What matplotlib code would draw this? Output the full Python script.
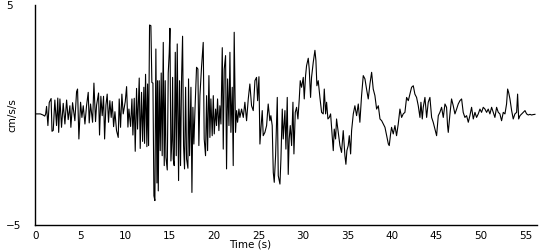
import matplotlib
matplotlib.use("Agg")
import matplotlib.pyplot as plt

# time (s) and ground acceleration (cm/s/s)
time_s = [
    0.0, 0.5, 0.8, 1.0, 1.1, 1.20, 1.35, 1.50, 1.71, 1.81, 1.95, 2.13, 2.32, 2.46, 2.56,
    2.70, 2.88, 3.07, 3.26, 3.45, 3.63, 3.82, 3.93, 4.12, 4.38, 4.57, 4.68, 4.83,
    5.02, 5.17, 5.32, 5.51, 5.69, 5.88, 5.99, 6.14, 6.37, 6.52, 6.70, 6.82, 7.04,
    7.15, 7.30, 7.45, 7.60, 7.72, 7.87, 8.01, 8.16, 8.31, 8.46, 8.58, 8.73, 8.88,
    9.06, 9.25, 9.36, 9.51, 9.66, 9.81, 10.04, 10.19, 10.34, 10.45, 10.64, 10.79,
    10.90, 11.05, 11.16, 11.31, 11.42, 11.61, 11.72, 11.87, 11.99, 12.13, 12.21,
    12.32, 12.47, 12.55, 12.66, 12.77, 12.92, 13.03, 13.15, 13.26, 13.37, 13.48,
    13.60, 13.67, 13.75, 13.86, 13.97, 14.08, 14.19, 14.31, 14.42, 14.53, 14.61,
    14.76, 14.87, 14.98, 15.06, 15.17, 15.28, 15.36, 15.43, 15.54, 15.66, 15.77,
    15.88, 16.03, 16.14, 16.25, 16.37, 16.48, 16.59, 16.70, 16.82, 16.93, 17.08,
    17.15, 17.27, 17.42, 17.53, 17.64, 17.75, 17.87, 18.05, 18.20, 18.31,
    18.43, 18.61, 18.80, 18.91, 19.06, 19.18, 19.29, 19.44, 19.55, 19.66, 19.81,
    19.93, 20.04, 20.19, 20.30, 20.41, 20.56, 20.67, 20.79, 20.94, 21.05, 21.16,
    21.31, 21.42, 21.54, 21.69, 21.80, 21.91, 22.06, 22.17, 22.28, 22.43, 22.55,
    22.66, 22.81, 22.92, 23.11, 23.30, 23.48, 23.67, 23.86, 24.04, 24.23, 24.42,
    24.61, 24.79, 24.91, 25.06, 25.17, 25.28, 25.43, 25.54, 25.73, 25.92, 26.10,
    26.29, 26.40, 26.55, 26.67, 26.78, 26.93, 27.12, 27.23, 27.42, 27.53, 27.68,
    27.79, 27.98, 28.09, 28.24, 28.35, 28.46, 28.58, 28.73, 28.88, 28.99, 29.14,
    29.29, 29.44, 29.59, 29.70, 29.85, 30.04, 30.15, 30.30, 30.41, 30.60, 30.71,
    30.86, 30.97, 31.16, 31.35, 31.46, 31.57, 31.72, 31.91, 32.10, 32.28, 32.40,
    32.55, 32.66, 32.81, 32.96, 33.11, 33.22, 33.41, 33.52, 33.67, 33.78, 33.97,
    34.16, 34.34, 34.53, 34.72, 34.83, 34.94, 35.09, 35.21, 35.36, 35.47, 35.66,
    35.84, 36.03, 36.22, 36.40, 36.59, 36.78, 36.97, 37.15, 37.34, 37.53, 37.72,
    37.90, 38.09, 38.28, 38.47, 38.66, 38.85, 39.03, 39.22, 39.41, 39.60,
    39.70, 39.85, 39.96, 40.15, 40.34, 40.52, 40.71, 40.90, 41.09, 41.27, 41.46,
    41.65, 41.84, 42.02, 42.21, 42.40, 42.58, 42.77, 42.96, 43.15, 43.26, 43.41,
    43.52, 43.71, 43.90, 44.08, 44.27, 44.46, 44.64, 44.83, 45.02, 45.21, 45.39,
    45.58, 45.77, 45.96, 46.14, 46.25, 46.33, 46.52, 46.70, 46.89, 47.08, 47.27,
    47.45, 47.64, 47.83, 48.01, 48.20, 48.39, 48.58, 48.76, 48.95, 49.14, 49.33,
    49.51, 49.70, 49.89, 50.07, 50.26, 50.45, 50.64, 50.82, 51.01, 51.20, 51.39,
    51.57, 51.76, 51.95, 52.13, 52.32, 52.51, 52.70, 52.88, 53.00, 53.11, 53.26,
    53.45, 53.63, 53.82, 54.01, 54.12, 54.24, 54.39, 54.58, 54.76, 54.95, 55.13,
    55.32, 55.51, 55.69, 55.88, 56.07,
]
accel = [
    0.05, 0.05, 0.0, -0.05, 0.05, 0.39, -0.48, 0.57, 0.75, -0.74, -0.70, 0.68, -0.48, 0.77, -0.79,
    0.73, -0.56, 0.53, -0.41, 0.68, -0.21, 0.42, -0.56, 0.56, -0.26, 1.06, 1.18, -1.09,
    0.58, -0.11, 0.42, -0.41, 0.42, 1.03, -0.36, 0.50, -0.33, 1.45, -0.30, 0.45, 1.00,
    -0.91, 0.85, -0.03, 0.85, -1.09, 0.45, 0.95, -0.33, 0.65, -0.11, 0.61, -0.53, 0.15,
    -0.71, -1.02, 0.73, -0.56, 0.95, 0.05, 0.61, 1.29, -0.55, 0.27, -0.52, 0.73,
    -0.91, 0.76, -1.65, 1.21, -0.64, 1.68, -1.52, 1.03, -1.20, 1.26, -1.29,
    1.85, -1.44, 1.41, -1.39, 4.09, 4.06, 1.48, 1.45, -3.67, -3.89, 3.00,
    -3.09, 1.56, -3.45, 1.56, -1.62, 1.91, -1.85, 3.30, -2.30, 1.56, -1.92,
    -2.50, 1.91, 2.82, 3.94, -2.09, -1.17, 1.71, -2.00, -2.30, 2.85, -1.85,
    3.23, -2.98, 1.56, -2.30, 1.71, 3.58, -1.39, -2.45, 1.26, -2.00, -2.42,
    1.64, -1.85, 1.26, -3.52, 0.35, -1.32, 0.20, 2.17, 2.09, -1.39,
    0.88, 2.18, 3.30, -1.09, -1.85, 0.88, -1.62, 1.79, -1.02, 0.73, -0.94,
    0.88, -0.86, 0.27, -0.48, 0.73, -0.71, 0.42, -0.41, 3.06, -1.55, 2.09,
    2.70, -2.45, 1.64, -0.48, 2.85, -0.79, 1.26, -2.30, 3.76, -0.79, 0.20,
    -0.33, 0.27, -0.11, 0.27, -0.11, 0.58, -0.26, 0.73, 1.41, 0.42, 0.20,
    1.56, 1.71, 0.65, 1.74, -1.32, -0.64, 0.20, -0.94, -0.79, -0.48, 0.50,
    -0.26, -0.03, -0.48, -2.61, -3.06, -1.85, 0.80, -2.76, -3.14, -2.00, 0.27,
    -1.09, 0.20, -1.55, 0.80, -2.70, -1.09, -0.48, -1.39, 0.58, -1.77, 0.12,
    0.35, -0.18, 0.73, 1.56, 1.26, 1.71, 0.73, 1.79, 2.24, 2.58, 2.09,
    0.80, 1.71, 2.39, 2.94, 2.48, 1.33, 1.56, 0.80, 0.12, 0.05, 1.18,
    0.05, 0.58, -0.18, -0.11, 0.05, -0.56, -1.62, -0.64, -1.09, -0.18, -0.79,
    -1.39, -1.70, -0.71, -1.85, -2.24, -1.62, -1.39, -0.94, -1.77, -0.71, 0.05,
    0.42, -0.03, 0.50, -0.33, 0.88, 1.79, 1.64, 1.18, 0.73, 1.41, 1.94,
    1.18, 0.88, 0.27, 0.42, -0.18, -0.26, -0.41, -0.56, -0.94, -1.32,
    -1.39, -0.86, -0.56, -0.86, -0.48, -0.94, -0.41, 0.27, -0.11, 0.05, 0.12,
    0.80, 0.65, 0.95, 1.26, 1.33, 0.95, 0.80, 0.42, -0.11, 0.58, -0.18,
    0.35, 0.80, -0.11, 0.58, 0.80, -0.11, -0.33, -0.64, -0.94, -0.03, 0.12,
    0.35, -0.11, 0.50, 0.35, -0.48, -0.79, 0.05, 0.73, 0.42, 0.05, 0.27,
    0.50, 0.65, 0.73, 0.12, -0.11, -0.03, -0.33, -0.03, 0.35, -0.18, 0.12,
    -0.11, 0.05, 0.27, 0.12, 0.35, 0.27, 0.12, 0.27, 0.05, 0.35, 0.12,
    -0.11, 0.35, 0.12, 0.05, -0.26, 0.12, 0.05, 0.50, 1.18, 1.03, 0.73,
    0.20, -0.18, 0.05, 0.12, 0.95, -0.18, -0.03, 0.05, 0.12, 0.20, 0.05,
    0.0, 0.03, 0.0, 0.02, 0.03,
]
x_ticks = [0, 5, 10, 15, 20, 25, 30, 35, 40, 45, 50, 55]
y_ticks = [-5, 5]

fig = plt.figure(figsize=(5.5, 2.5), dpi=100)
ax = fig.add_axes([35 / 550, 25 / 250, 502 / 550, 220 / 250])

ax.plot(time_s, accel, color="black", linewidth=0.8)

ax.set_xlim(-0.1, 56.3)
ax.set_ylim(-5, 5)
ax.set_xticks(x_ticks)
ax.set_yticks(y_ticks)
ax.tick_params(axis="both", length=0, labelsize=7.5)
ax.tick_params(axis="x", pad=4)
ax.tick_params(axis="y", pad=21)
# y labels sit flush left near the figure edge
for lab in ax.get_yticklabels():
    lab.set_horizontalalignment("left")

# only the left and bottom lines are drawn
ax.spines["top"].set_visible(False)
ax.spines["right"].set_visible(False)
for side in ["left", "bottom"]:
    ax.spines[side].set_linewidth(1.0)

ax.set_xlabel("Time (s)", fontsize=7.5)
ax.xaxis.set_label_coords(0.428, -0.065)
ax.set_ylabel("cm/s/s", fontsize=7.5)
ax.yaxis.set_label_coords(-0.036, 0.5)

fig.savefig("out.png", dpi=100)
